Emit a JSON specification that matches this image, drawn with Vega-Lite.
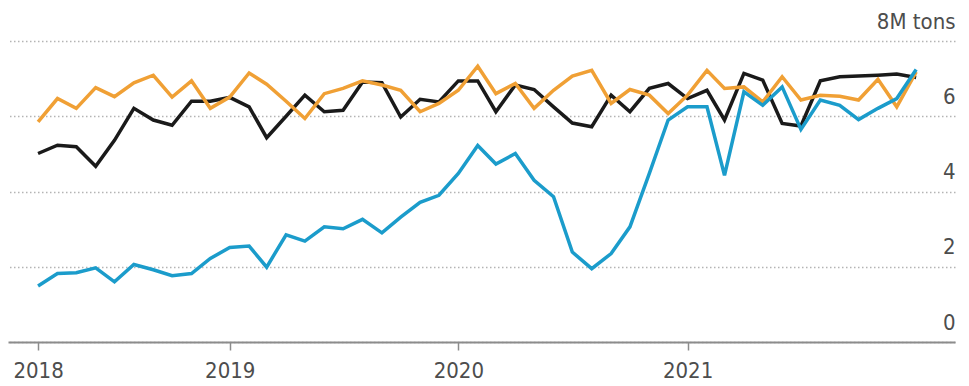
{
  "$schema": "https://vega.github.io/schema/vega-lite/v6.json",
  "width": 947,
  "height": 301,
  "autosize": {"type": "pad"},
  "padding": {"left": 8, "top": 10, "right": 14, "bottom": 2},
  "config": {
    "view": {"stroke": null},
    "font": "DejaVu Sans Condensed, DejaVu Sans",
    "axis": {"labelFont": "DejaVu Sans Condensed, DejaVu Sans"}
  },
  "data": {
    "values": [
      {"month": "2018-03-01T00:00", "series": "A", "value": 5.01},
      {"month": "2018-04-01T00:00", "series": "A", "value": 5.23},
      {"month": "2018-05-01T00:00", "series": "A", "value": 5.19},
      {"month": "2018-06-01T00:00", "series": "A", "value": 4.67},
      {"month": "2018-07-01T00:00", "series": "A", "value": 5.36},
      {"month": "2018-08-01T00:00", "series": "A", "value": 6.21},
      {"month": "2018-09-01T00:00", "series": "A", "value": 5.90},
      {"month": "2018-10-01T00:00", "series": "A", "value": 5.76},
      {"month": "2018-11-01T00:00", "series": "A", "value": 6.40},
      {"month": "2018-12-01T00:00", "series": "A", "value": 6.40},
      {"month": "2019-01-01T00:00", "series": "A", "value": 6.50},
      {"month": "2019-02-01T00:00", "series": "A", "value": 6.25},
      {"month": "2019-03-01T00:00", "series": "A", "value": 5.43},
      {"month": "2019-04-01T00:00", "series": "A", "value": 6.00},
      {"month": "2019-05-01T00:00", "series": "A", "value": 6.56},
      {"month": "2019-06-01T00:00", "series": "A", "value": 6.12},
      {"month": "2019-07-01T00:00", "series": "A", "value": 6.16},
      {"month": "2019-08-01T00:00", "series": "A", "value": 6.91},
      {"month": "2019-09-01T00:00", "series": "A", "value": 6.89},
      {"month": "2019-10-01T00:00", "series": "A", "value": 5.98},
      {"month": "2019-11-01T00:00", "series": "A", "value": 6.45},
      {"month": "2019-12-01T00:00", "series": "A", "value": 6.38},
      {"month": "2020-01-01T00:00", "series": "A", "value": 6.94},
      {"month": "2020-02-01T00:00", "series": "A", "value": 6.94},
      {"month": "2020-03-01T00:00", "series": "A", "value": 6.12},
      {"month": "2020-04-01T00:00", "series": "A", "value": 6.83},
      {"month": "2020-05-01T00:00", "series": "A", "value": 6.71},
      {"month": "2020-06-01T00:00", "series": "A", "value": 6.25},
      {"month": "2020-07-01T00:00", "series": "A", "value": 5.82},
      {"month": "2020-08-01T00:00", "series": "A", "value": 5.72},
      {"month": "2020-09-01T00:00", "series": "A", "value": 6.56},
      {"month": "2020-10-01T00:00", "series": "A", "value": 6.12},
      {"month": "2020-11-01T00:00", "series": "A", "value": 6.74},
      {"month": "2020-12-01T00:00", "series": "A", "value": 6.87},
      {"month": "2021-01-01T00:00", "series": "A", "value": 6.47},
      {"month": "2021-02-01T00:00", "series": "A", "value": 6.69},
      {"month": "2021-03-01T00:00", "series": "A", "value": 5.90},
      {"month": "2021-04-01T00:00", "series": "A", "value": 7.14},
      {"month": "2021-05-01T00:00", "series": "A", "value": 6.96},
      {"month": "2021-06-01T00:00", "series": "A", "value": 5.81},
      {"month": "2021-07-01T00:00", "series": "A", "value": 5.74},
      {"month": "2021-08-01T00:00", "series": "A", "value": 6.94},
      {"month": "2021-09-01T00:00", "series": "A", "value": 7.05},
      {"month": "2021-10-01T00:00", "series": "A", "value": 7.07},
      {"month": "2021-11-01T00:00", "series": "A", "value": 7.09},
      {"month": "2021-12-01T00:00", "series": "A", "value": 7.12},
      {"month": "2022-01-01T00:00", "series": "A", "value": 7.03},

      {"month": "2018-03-01T00:00", "series": "B", "value": 5.85},
      {"month": "2018-04-01T00:00", "series": "B", "value": 6.47},
      {"month": "2018-05-01T00:00", "series": "B", "value": 6.21},
      {"month": "2018-06-01T00:00", "series": "B", "value": 6.76},
      {"month": "2018-07-01T00:00", "series": "B", "value": 6.52},
      {"month": "2018-08-01T00:00", "series": "B", "value": 6.89},
      {"month": "2018-09-01T00:00", "series": "B", "value": 7.09},
      {"month": "2018-10-01T00:00", "series": "B", "value": 6.51},
      {"month": "2018-11-01T00:00", "series": "B", "value": 6.94},
      {"month": "2018-12-01T00:00", "series": "B", "value": 6.21},
      {"month": "2019-01-01T00:00", "series": "B", "value": 6.51},
      {"month": "2019-02-01T00:00", "series": "B", "value": 7.15},
      {"month": "2019-03-01T00:00", "series": "B", "value": 6.85},
      {"month": "2019-04-01T00:00", "series": "B", "value": 6.40},
      {"month": "2019-05-01T00:00", "series": "B", "value": 5.94},
      {"month": "2019-06-01T00:00", "series": "B", "value": 6.60},
      {"month": "2019-07-01T00:00", "series": "B", "value": 6.74},
      {"month": "2019-08-01T00:00", "series": "B", "value": 6.94},
      {"month": "2019-09-01T00:00", "series": "B", "value": 6.83},
      {"month": "2019-10-01T00:00", "series": "B", "value": 6.69},
      {"month": "2019-11-01T00:00", "series": "B", "value": 6.12},
      {"month": "2019-12-01T00:00", "series": "B", "value": 6.34},
      {"month": "2020-01-01T00:00", "series": "B", "value": 6.69},
      {"month": "2020-02-01T00:00", "series": "B", "value": 7.33},
      {"month": "2020-03-01T00:00", "series": "B", "value": 6.60},
      {"month": "2020-04-01T00:00", "series": "B", "value": 6.87},
      {"month": "2020-05-01T00:00", "series": "B", "value": 6.21},
      {"month": "2020-06-01T00:00", "series": "B", "value": 6.69},
      {"month": "2020-07-01T00:00", "series": "B", "value": 7.07},
      {"month": "2020-08-01T00:00", "series": "B", "value": 7.22},
      {"month": "2020-09-01T00:00", "series": "B", "value": 6.34},
      {"month": "2020-10-01T00:00", "series": "B", "value": 6.71},
      {"month": "2020-11-01T00:00", "series": "B", "value": 6.56},
      {"month": "2020-12-01T00:00", "series": "B", "value": 6.07},
      {"month": "2021-01-01T00:00", "series": "B", "value": 6.56},
      {"month": "2021-02-01T00:00", "series": "B", "value": 7.22},
      {"month": "2021-03-01T00:00", "series": "B", "value": 6.74},
      {"month": "2021-04-01T00:00", "series": "B", "value": 6.78},
      {"month": "2021-05-01T00:00", "series": "B", "value": 6.38},
      {"month": "2021-06-01T00:00", "series": "B", "value": 7.05},
      {"month": "2021-07-01T00:00", "series": "B", "value": 6.43},
      {"month": "2021-08-01T00:00", "series": "B", "value": 6.56},
      {"month": "2021-09-01T00:00", "series": "B", "value": 6.53},
      {"month": "2021-10-01T00:00", "series": "B", "value": 6.43},
      {"month": "2021-11-01T00:00", "series": "B", "value": 6.98},
      {"month": "2021-12-01T00:00", "series": "B", "value": 6.25},
      {"month": "2022-01-01T00:00", "series": "B", "value": 7.18},

      {"month": "2018-03-01T00:00", "series": "C", "value": 1.49},
      {"month": "2018-04-01T00:00", "series": "C", "value": 1.82},
      {"month": "2018-05-01T00:00", "series": "C", "value": 1.84},
      {"month": "2018-06-01T00:00", "series": "C", "value": 1.97},
      {"month": "2018-07-01T00:00", "series": "C", "value": 1.60},
      {"month": "2018-08-01T00:00", "series": "C", "value": 2.06},
      {"month": "2018-09-01T00:00", "series": "C", "value": 1.92},
      {"month": "2018-10-01T00:00", "series": "C", "value": 1.76},
      {"month": "2018-11-01T00:00", "series": "C", "value": 1.82},
      {"month": "2018-12-01T00:00", "series": "C", "value": 2.22},
      {"month": "2019-01-01T00:00", "series": "C", "value": 2.51},
      {"month": "2019-02-01T00:00", "series": "C", "value": 2.55},
      {"month": "2019-03-01T00:00", "series": "C", "value": 1.99},
      {"month": "2019-04-01T00:00", "series": "C", "value": 2.85},
      {"month": "2019-05-01T00:00", "series": "C", "value": 2.68},
      {"month": "2019-06-01T00:00", "series": "C", "value": 3.06},
      {"month": "2019-07-01T00:00", "series": "C", "value": 3.01},
      {"month": "2019-08-01T00:00", "series": "C", "value": 3.26},
      {"month": "2019-09-01T00:00", "series": "C", "value": 2.90},
      {"month": "2019-10-01T00:00", "series": "C", "value": 3.32},
      {"month": "2019-11-01T00:00", "series": "C", "value": 3.71},
      {"month": "2019-12-01T00:00", "series": "C", "value": 3.90},
      {"month": "2020-01-01T00:00", "series": "C", "value": 4.48},
      {"month": "2020-02-01T00:00", "series": "C", "value": 5.22},
      {"month": "2020-03-01T00:00", "series": "C", "value": 4.73},
      {"month": "2020-04-01T00:00", "series": "C", "value": 5.01},
      {"month": "2020-05-01T00:00", "series": "C", "value": 4.30},
      {"month": "2020-06-01T00:00", "series": "C", "value": 3.86},
      {"month": "2020-07-01T00:00", "series": "C", "value": 2.39},
      {"month": "2020-08-01T00:00", "series": "C", "value": 1.95},
      {"month": "2020-09-01T00:00", "series": "C", "value": 2.35},
      {"month": "2020-10-01T00:00", "series": "C", "value": 3.06},
      {"month": "2020-11-01T00:00", "series": "C", "value": 4.48},
      {"month": "2020-12-01T00:00", "series": "C", "value": 5.90},
      {"month": "2021-01-01T00:00", "series": "C", "value": 6.25},
      {"month": "2021-02-01T00:00", "series": "C", "value": 6.25},
      {"month": "2021-03-01T00:00", "series": "C", "value": 4.43},
      {"month": "2021-04-01T00:00", "series": "C", "value": 6.65},
      {"month": "2021-05-01T00:00", "series": "C", "value": 6.29},
      {"month": "2021-06-01T00:00", "series": "C", "value": 6.78},
      {"month": "2021-07-01T00:00", "series": "C", "value": 5.65},
      {"month": "2021-08-01T00:00", "series": "C", "value": 6.43},
      {"month": "2021-09-01T00:00", "series": "C", "value": 6.29},
      {"month": "2021-10-01T00:00", "series": "C", "value": 5.91},
      {"month": "2021-11-01T00:00", "series": "C", "value": 6.21},
      {"month": "2021-12-01T00:00", "series": "C", "value": 6.47},
      {"month": "2022-01-01T00:00", "series": "C", "value": 7.24}
    ]
  },
  "mark": {"type": "line", "strokeWidth": 3.5},
  "encoding": {
    "x": {
      "field": "month",
      "type": "temporal",
      "scale": {"domain": [{"year": 2018, "month": 1, "date": 12}, {"year": 2022, "month": 3, "date": 4}]},
      "axis": {
        "title": null,
        "grid": false,
        "values": [
          {"year": 2018, "month": 3, "date": 1},
          {"year": 2019, "month": 1, "date": 1},
          {"year": 2020, "month": 1, "date": 1},
          {"year": 2021, "month": 1, "date": 1}
        ],
        "format": "%Y",
        "domainColor": "#8c8c8c",
        "domainWidth": 2,
        "tickColor": "#8c8c8c",
        "tickWidth": 1.5,
        "tickSize": 8,
        "labelFontSize": 22,
        "labelColor": "#4d4d4d",
        "labelPadding": 10,
        "labelFlush": false,
        "labelOverlap": false
      }
    },
    "y": {
      "field": "value",
      "type": "quantitative",
      "scale": {"domain": [0, 8], "nice": false},
      "axis": {
        "orient": "right",
        "title": null,
        "values": [0, 2, 4, 6, 8],
        "domain": false,
        "ticks": false,
        "grid": true,
        "gridColor": "#b4b4b4",
        "gridWidth": 1.5,
        "gridDash": [1.5, 2.5],
        "labelAlign": "right",
        "labelBaseline": "alphabetic",
        "labelOffset": -13,
        "labelPadding": 0,
        "labelFontSize": 22,
        "labelColor": "#4d4d4d",
        "labelExpr": "datum.value == 8 ? '8M tons' : datum.label"
      }
    },
    "color": {
      "field": "series",
      "type": "nominal",
      "scale": {"domain": ["A", "B", "C"], "range": ["#1a1a1a", "#f0a035", "#1b9ccb"]},
      "legend": null
    }
  }
}
